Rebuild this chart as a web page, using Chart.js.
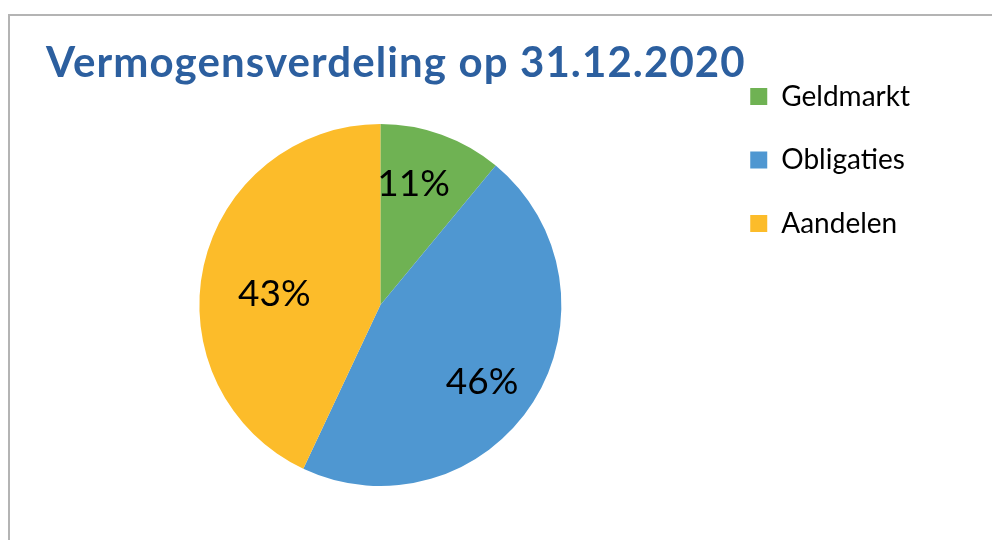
<!DOCTYPE html>
<html>
<head>
<meta charset="utf-8">
<script src="https://cdn.jsdelivr.net/npm/chart.js@4/dist/chart.umd.min.js"></script>
<style>
  html, body { margin: 0; padding: 0; background: #fff; overflow: hidden; }
  #wrap { position: relative; width: 992px; height: 540px; overflow: hidden; background: #fff; }
  #frame { position: absolute; left: 8px; top: 14px; width: 1000px; height: 600px;
           border-left: 2px solid #b4b4b4; border-top: 2px solid #b4b4b4; box-sizing: border-box; pointer-events: none; }
  #title { position: absolute; left: 46px; top: 40px; margin: 0; font-family: Lato, "Open Sans", sans-serif;
           font-weight: 700; font-size: 42px; line-height: 42px; letter-spacing: 1.1px; color: #2C5F9F; white-space: nowrap; }
  #c { position: absolute; left: 0; top: 0; }
</style>
</head>
<body>
<div id="wrap">
  <div id="frame"></div>
  <canvas id="c" width="992" height="600"></canvas>
  <h1 id="title"></h1>
</div>
<script>
const chartTitle = 'Vermogensverdeling op 31.12.2020';
const categories = ['Geldmarkt', 'Obligaties', 'Aandelen'];
const shares = [11, 46, 43];
const sliceColors = ['#6FB253', '#4F97D1', '#FCBC2A'];

document.getElementById('title').textContent = chartTitle;

const pctLabels = {
  id: 'pctLabels',
  afterDatasetsDraw(chart, args, opts) {
    const ctx = chart.ctx;
    const meta = chart.getDatasetMeta(0);
    const vals = chart.data.datasets[0].data;
    const total = vals.reduce((a, b) => a + b, 0);
    ctx.save();
    ctx.font = opts.size + 'px ' + opts.family;
    ctx.fillStyle = opts.color;
    ctx.textAlign = 'center';
    ctx.textBaseline = 'alphabetic';
    meta.data.forEach((arc, i) => {
      const p = arc.getProps(['x', 'y', 'startAngle', 'endAngle', 'outerRadius'], true);
      const mid = (p.startAngle + p.endAngle) / 2 + (opts.angleShift[i] || 0) * Math.PI / 180;
      const r = p.outerRadius * (opts.radius[i] || 0.65);
      const x = p.x + Math.cos(mid) * r;
      const y = p.y + Math.sin(mid) * r;
      const txt = Math.round(vals[i] / total * 100) + '%';
      ctx.fillText(txt, x, y + opts.size * 0.36);
    });
    ctx.restore();
  }
};

new Chart(document.getElementById('c'), {
  type: 'pie',
  data: {
    labels: categories,
    datasets: [{
      data: shares,
      backgroundColor: sliceColors,
      borderWidth: 0,
      radius: 181
    }]
  },
  options: {
    responsive: false,
    animation: false,
    devicePixelRatio: 1,
    layout: { padding: { left: 46, right: 72, top: 47, bottom: 37 } },
    plugins: {
      title: { display: false },
      tooltip: { enabled: false },
      legend: {
        display: true,
        position: 'right',
        align: 'start',
        labels: {
          boxWidth: 17,
          boxHeight: 17,
          padding: 35.5,
          color: '#000',
          font: { family: 'Lato', size: 28 }
        }
      },
      pctLabels: {
        family: 'Lato',
        size: 37,
        color: '#000',
        radius: [0.70, 0.70, 0.59],
        angleShift: [-4.6, 4.2, -5.9]
      }
    }
  },
  plugins: [pctLabels]
});
</script>
</body>
</html>
